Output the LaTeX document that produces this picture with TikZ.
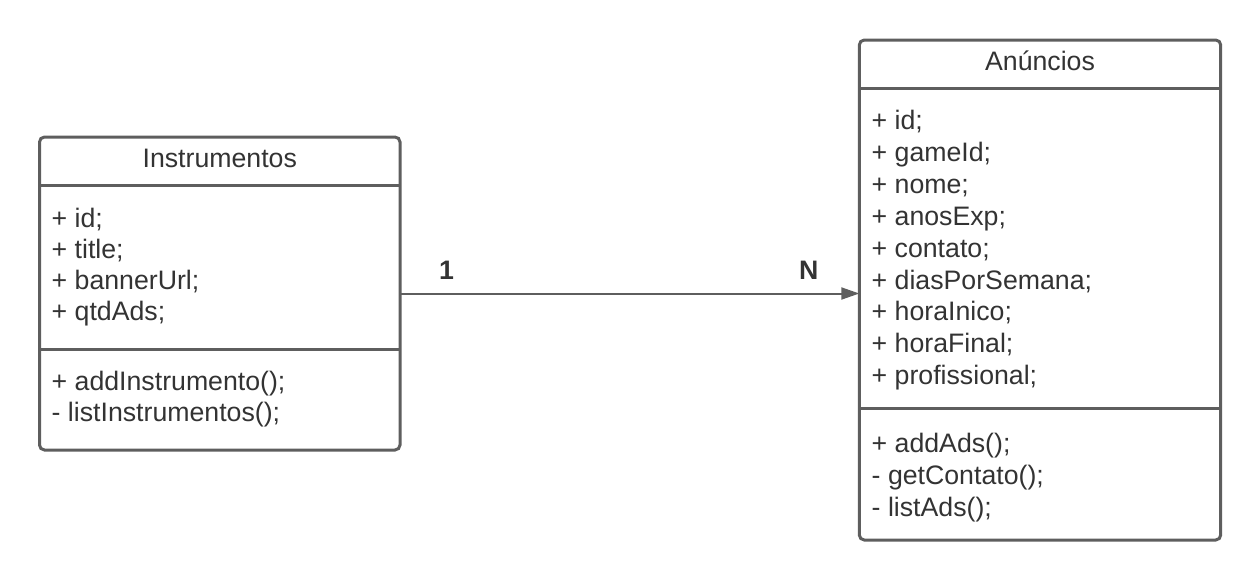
\documentclass[tikz,border=0pt]{standalone}
\usepackage{fontspec}
\setmainfont{Liberation Sans}
\usetikzlibrary{arrows.meta}
\definecolor{umlline}{HTML}{5E5E5E}
\definecolor{umltext}{HTML}{333333}
\begin{document}
\begin{tikzpicture}[x=1pt,y=-1pt,
  classbox/.style={draw=umlline, line width=3pt, rounded corners=5pt, inner sep=0pt, outer sep=0pt},
  divider/.style={draw=umlline, line width=3pt},
  member/.style={anchor=base west, inner sep=0pt, text=umltext, font=\fontsize{26.7}{32}\selectfont},
  classtitle/.style={anchor=base, inner sep=0pt, text=umltext, font=\fontsize{26.7}{32}\selectfont},
  mult/.style={inner sep=0pt, text=umltext, font=\fontsize{26.7}{32}\selectfont\bfseries},
  assoc/.style={draw=umlline, line width=2pt, -{Triangle[length=18pt,width=12pt]}}
]
\useasboundingbox (0,0) rectangle (1260,587);

% class Instrumentos
\node[classbox, minimum width=360.5pt, minimum height=313pt] (inst) at (219.75,293.5) {};
\draw[divider] (inst.west |- 0,185) -- (inst.east |- 0,185);
\draw[divider] (inst.west |- 0,349) -- (inst.east |- 0,349);
\node[classtitle] (insttitle) at (219.75,167.5) {Instrumentos};
\foreach \t [count=\i from 0] in {{+ id;},{+ title;},{+ bannerUrl;},{+ qtdAds;}}
  \node[member] (instattr\i) at (51.5,227+31.3*\i) {\t};
\foreach \t [count=\i from 0] in {{+ addInstrumento();},{- listInstrumentos();}}
  \node[member] (instop\i) at (51.5,390+31.7*\i) {\t};

% class Anúncios
\node[classbox, minimum width=361.4pt, minimum height=500pt] (anun) at (1040,290) {};
\draw[divider] (anun.west |- 0,88.3) -- (anun.east |- 0,88.3);
\draw[divider] (anun.west |- 0,408.3) -- (anun.east |- 0,408.3);
\node[classtitle] (anuntitle) at (1040,70) {Anúncios};
\foreach \t [count=\i from 0] in {{+ id;},{+ gameId;},{+ nome;},{+ anosExp;},{+ contato;},{+ diasPorSemana;},{+ horaInico;},{+ horaFinal;},{+ profissional;}}
  \node[member] (anunattr\i) at (871.5,129.5+31.9*\i) {\t};
\foreach \t [count=\i from 0] in {{+ addAds();},{- getContato();},{- listAds();}}
  \node[member] (anunop\i) at (871.5,452+32*\i) {\t};

% association 1..N
\draw[assoc] (inst.east) -- (inst.east -| anun.west)
  node[mult, pos=0.083, anchor=base west, yshift=14pt] (one) {1}
  node[mult, pos=0.913, anchor=base east, yshift=14pt] (many) {N};
\end{tikzpicture}
\end{document}
